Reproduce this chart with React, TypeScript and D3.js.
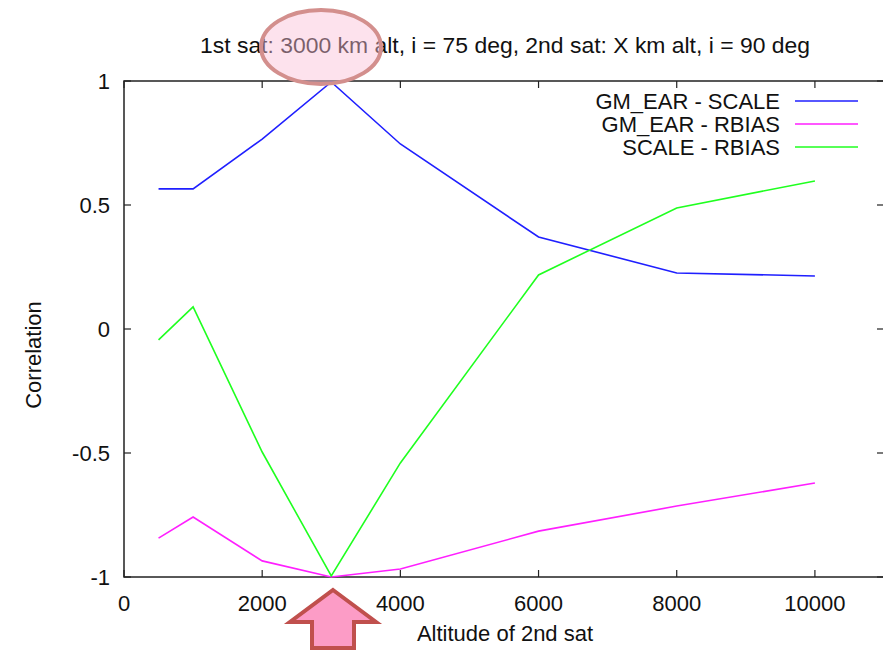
import React from 'react';
import * as d3 from 'd3';

const altitudes = [500, 1000, 2000, 3000, 4000, 6000, 8000, 10000];
const gmEarScale = [0.565, 0.565, 0.766, 0.996, 0.746, 0.371, 0.226, 0.214];
const gmEarRbias = [-0.843, -0.758, -0.935, -1.0, -0.968, -0.815, -0.714, -0.621];
const scaleRbias = [-0.044, 0.089, -0.496, -0.996, -0.54, 0.218, 0.488, 0.597];

const seriesNames = ['GM_EAR - SCALE', 'GM_EAR - RBIAS', 'SCALE - RBIAS'];
const seriesColors = ['#1f1fff', '#ff1fff', '#1fff1f'];
const xTicks = [0, 2000, 4000, 6000, 8000, 10000];
const yTicks = [-1, -0.5, 0, 0.5, 1];

const W = 883;
const H = 652;
const margin = { left: 124, right: 884, top: 81, bottom: 577 };
const font = '"Liberation Sans", Arial, sans-serif';
const fs = 22;

const App = () => {
  const x = d3.scaleLinear().domain([0, 11000]).range([margin.left, margin.right]);
  const y = d3.scaleLinear().domain([-1, 1]).range([margin.bottom, margin.top]);
  const series = [gmEarScale, gmEarRbias, scaleRbias];
  const line = d3.line<number>()
    .x((_, i) => x(altitudes[i]))
    .y((d) => y(d));
  const tick = 7;

  return (
    <svg width={W} height={H} style={{ position: 'absolute', left: 0, top: 0, background: '#fff' }} fontFamily={font}>
      <text x={505} y={53} fontSize={fs} textAnchor="middle" fill="#111" textLength={610} lengthAdjust="spacingAndGlyphs">
        1st sat: 3000 km alt, i = 75 deg, 2nd sat: X km alt, i = 90 deg
      </text>

      {/* frame */}
      <rect x={margin.left} y={margin.top} width={margin.right - margin.left} height={margin.bottom - margin.top}
        fill="none" stroke="#222" strokeWidth={1.5} />

      {xTicks.map((t) => (
        <g key={'x' + t}>
          <line x1={x(t)} x2={x(t)} y1={margin.bottom} y2={margin.bottom - tick} stroke="#222" strokeWidth={1.2} />
          <line x1={x(t)} x2={x(t)} y1={margin.top} y2={margin.top + tick} stroke="#222" strokeWidth={1.2} />
          <text x={x(t)} y={margin.bottom + 34} fontSize={fs} textAnchor="middle" fill="#111">{t}</text>
        </g>
      ))}
      {yTicks.map((t) => (
        <g key={'y' + t}>
          <line x1={margin.left} x2={margin.left + tick} y1={y(t)} y2={y(t)} stroke="#222" strokeWidth={1.2} />
          <line x1={margin.right} x2={margin.right - tick} y1={y(t)} y2={y(t)} stroke="#222" strokeWidth={1.2} />
          <text x={margin.left - 14} y={y(t) + 8} fontSize={fs} textAnchor="end" fill="#111">{t}</text>
        </g>
      ))}

      <text x={505} y={641} fontSize={fs} textAnchor="middle" fill="#111">Altitude of 2nd sat</text>
      <text transform="translate(41,355) rotate(-90)" fontSize={fs} textAnchor="middle" fill="#111">Correlation</text>

      {series.map((s, i) => (
        <path key={seriesNames[i]} d={line(s) || ''} fill="none" stroke={seriesColors[i]} strokeWidth={1.6} />
      ))}

      {seriesNames.map((n, i) => (
        <g key={'lg' + n}>
          <text x={780} y={109 + i * 23} fontSize={fs} textAnchor="end" fill="#111">{n}</text>
          <line x1={795} x2={858} y1={101 + i * 23} y2={101 + i * 23} stroke={seriesColors[i]} strokeWidth={1.6} />
        </g>
      ))}

      {/* annotations */}
      <ellipse cx={321} cy={47} rx={60} ry={37} fill="rgba(250,190,215,0.45)" stroke="#d38f8d" strokeWidth={4} />
      <path d="M333,590 L376,622 L354,622 L354,648 L312,648 L312,622 L290,622 Z"
        fill="#fc9cc6" stroke="#c0504d" strokeWidth={4} strokeLinejoin="miter" />
    </svg>
  );
};

export default App;
